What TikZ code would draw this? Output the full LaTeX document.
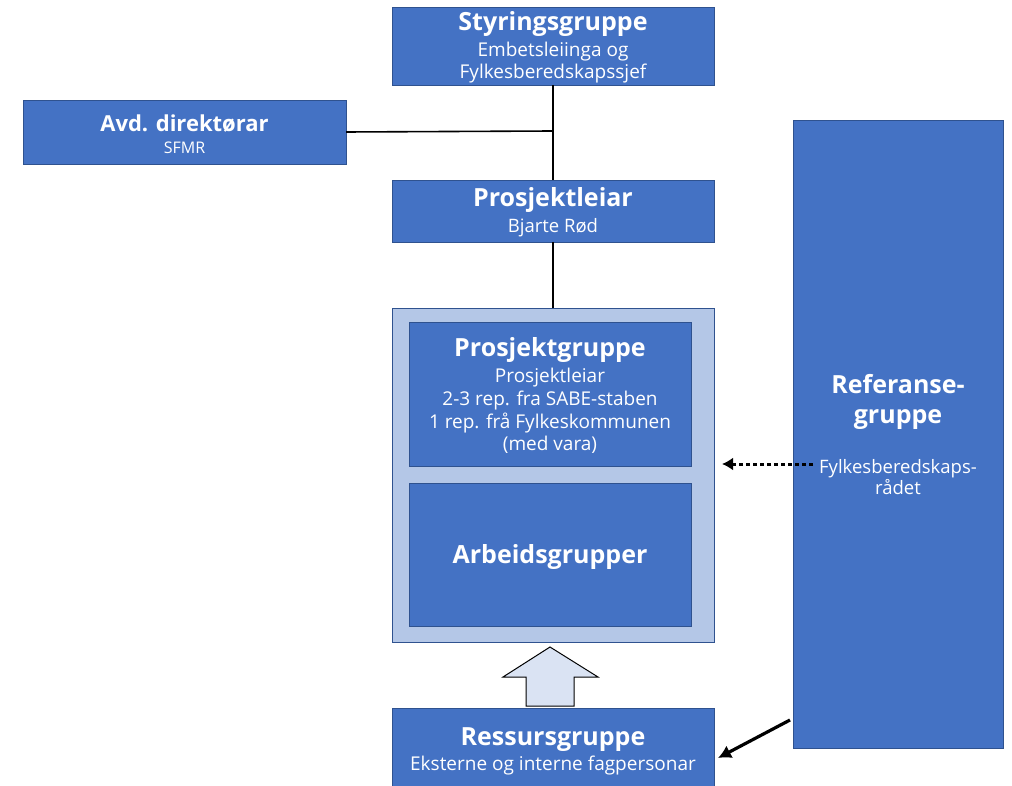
\documentclass[tikz,border=0pt]{standalone}
\usepackage{fontspec}
\setmainfont{Open Sans}
\usetikzlibrary{arrows.meta}
\definecolor{boxblue}{HTML}{4472C4}
\definecolor{boxedge}{HTML}{2F528F}
\definecolor{lightblue}{HTML}{B4C7E7}
\definecolor{paleblue}{HTML}{DAE3F3}
\tikzset{
  box/.style={draw=boxedge, fill=boxblue, line width=0.8pt, inner sep=0pt, outer sep=0pt, anchor=north west},
  outerbox/.style={draw=boxedge, fill=lightblue, line width=0.8pt, inner sep=0pt, outer sep=0pt, anchor=north west},
  ttl/.style={text=white, anchor=base, inner sep=0pt, font=\fontsize{25}{30}\selectfont\bfseries},
  sub/.style={text=white, anchor=base, inner sep=0pt, font=\fontsize{19}{23}\selectfont},
  conn/.style={line width=1.6pt, black},
}
\begin{document}
\begin{tikzpicture}[x=1pt,y=-1pt]
\useasboundingbox (0,0) rectangle (1012,786);
% boxes
\node[box, minimum width=322pt, minimum height=78pt] (sty) at (392,7) {};
\node[box, minimum width=323pt, minimum height=64pt] (avd) at (23,100) {};
\node[box, minimum width=322pt, minimum height=62pt] (pl) at (392,180) {};
\node[outerbox, minimum width=322pt, minimum height=334pt] (outer) at (392,308) {};
\node[box, minimum width=282pt, minimum height=144pt] (pg) at (409,322) {};
\node[box, minimum width=282pt, minimum height=143pt] (ag) at (409,483) {};
\node[box, minimum width=322pt, minimum height=82pt] (res) at (392,708) {};
\node[box, minimum width=210pt, minimum height=628pt] (ref) at (793,120) {};
% texts
\node[ttl] (styT) at (553,31) {Styringsgruppe};
\node[sub] (styS1) at (553,57) {Embetsleiinga og};
\node[sub] (styS2) at (553,79) {Fylkesberedskapssjef};
\node[ttl, font=\fontsize{22}{26}\selectfont\bfseries] (avdT) at (184.5,132) {Avd. direktørar};
\node[sub, font=\fontsize{16}{19}\selectfont] (avdS) at (184.5,154) {SFMR};
\node[ttl] (plT) at (553,207) {Prosjektleiar};
\node[sub, font=\fontsize{18.5}{22}\selectfont] (plS) at (553,233) {Bjarte Rød};
\node[ttl] (pgT) at (550,356) {Prosjektgruppe};
\node[sub] (pg1) at (550,382) {Prosjektleiar};
\node[sub] (pg2) at (550,405) {2-3 rep. fra SABE-staben};
\node[sub] (pg3) at (550,428) {1 rep. frå Fylkeskommunen};
\node[sub] (pg4) at (550,450) {(med vara)};
\node[ttl] (agT) at (550,563) {Arbeidsgrupper};
\node[ttl] (resT) at (553,745) {Ressursgruppe};
\node[sub] (resS) at (553,770) {Eksterne og interne fagpersonar};
\node[ttl] (ref1) at (898,393) {Referanse-};
\node[ttl] (ref2) at (898,423) {gruppe};
\node[sub, font=\fontsize{18.5}{22}\selectfont] (ref3) at (898,473) {Fylkesberedskaps-};
\node[sub, font=\fontsize{18.5}{22}\selectfont] (ref4) at (898,494) {rådet};
% connectors
\coordinate (j) at (553,131);
\draw[conn] (sty.south -| j) -- (pl.north -| j);
\draw[conn] (avd.east) -- (j);
\draw[conn] (pl.south -| j) -- (outer.north -| j);
% dotted arrow
\coordinate (dotS) at (813,464);
\coordinate (dotE) at (722,464);
\draw[line width=3pt, dash pattern=on 4pt off 3pt, -{Latex[length=11pt,width=13pt]}] (dotS) -- (dotE);
% black arrow
\coordinate (bS) at (790,720);
\coordinate (bE) at (718,758);
\draw[line width=3.2pt, -{Latex[length=13pt,width=14pt]}] (bS) -- (bE);
% block arrow
\draw[fill=paleblue, line width=1pt, line join=miter]
  (526,706) -- (526,677) -- (503,677) -- (550,647) -- (598,677) -- (574,677) -- (574,706) -- cycle;
\end{tikzpicture}
\end{document}
